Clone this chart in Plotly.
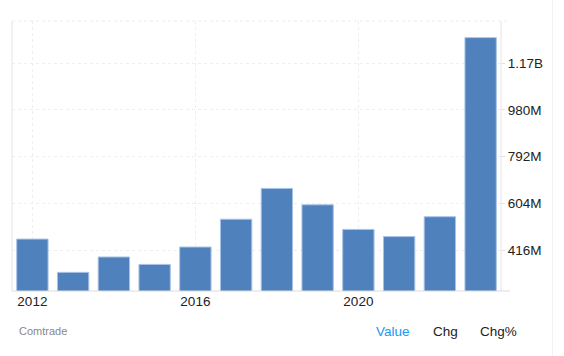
import plotly.graph_objects as go

years = [2012, 2013, 2014, 2015, 2016, 2017, 2018, 2019, 2020, 2021, 2022, 2023]
values_musd = [460, 326, 388, 358, 428, 540, 664, 598, 499, 470, 550, 1271]
values = [v * 1e6 for v in values_musd]

x_tickvals = [2012, 2016, 2020]
x_ticktext = ["2012", "2016", "2020"]
y_tickvals = [416e6, 604e6, 792e6, 980e6, 1168e6]
y_ticktext = ["416M", "604M", "792M", "980M", "1.17B"]

footer_source = "Comtrade"
footer_tabs = ["Value", "Chg", "Chg%"]

W, H = 564, 356
L, R, T, B = 12, 501, 21, 291
pw, ph = R - L, B - T

def px(x):
    return (x - L) / pw

def py(y):
    return (B - y) / ph

font = "Liberation Sans, Arial, Helvetica, sans-serif"

fig = go.Figure()
fig.add_trace(go.Bar(
    x=years, y=values, width=0.77,
    marker=dict(color="#4F81BD", line=dict(color="#a9c3e6", width=1)),
    hoverinfo="x+y",
))

grid_col = "#eeeeee"
fig.update_layout(
    width=W, height=H,
    margin=dict(l=L, r=W - R, t=T, b=H - B, pad=0),
    paper_bgcolor="white", plot_bgcolor="white",
    showlegend=False,
    font=dict(family=font, size=13.5, color="#333"),
    xaxis=dict(
        range=[2011.5, 2023.5], tickvals=x_tickvals, ticktext=x_ticktext,
        showgrid=True, gridcolor=grid_col, griddash="dot", gridwidth=1,
        showline=False, zeroline=False, ticks="", ticklabelstandoff=0,
        tickfont=dict(size=13.5, color="#222"),
    ),
    yaxis=dict(
        range=[251e6, 1338e6], side="right", tickvals=y_tickvals, ticktext=y_ticktext,
        showgrid=True, gridcolor=grid_col, griddash="dot", gridwidth=1,
        showline=False, zeroline=False, ticks="outside", ticklen=3, tickcolor="#e0e0e0",
        tickfont=dict(size=13.5, color="#222"),
    ),
)

line_col = "#e4e4e4"
shapes = [
    dict(type="line", xref="paper", yref="paper", x0=0, x1=0, y0=0, y1=1, line=dict(color=line_col, width=1)),
    dict(type="line", xref="paper", yref="paper", x0=1, x1=1, y0=0, y1=1, line=dict(color=line_col, width=1)),
    dict(type="line", xref="paper", yref="paper", x0=0, x1=px(510), y0=0, y1=0, line=dict(color="#dcdcdc", width=1)),
    dict(type="line", xref="paper", yref="paper", x0=0, x1=px(510), y0=1, y1=1, line=dict(color="#ececec", width=1, dash="dot")),
    dict(type="line", xref="paper", yref="paper", x0=px(552.5), x1=px(552.5), y0=py(0), y1=py(H), line=dict(color="#f2f2f2", width=1)),
]
fig.update_layout(shapes=shapes)

ann = [
    dict(text=footer_source, x=px(17), y=py(331), xanchor="left", yanchor="middle",
         font=dict(size=11, color="#888888")),
    dict(text=footer_tabs[0], x=px(374), y=py(331), xanchor="left", yanchor="middle",
         font=dict(size=13.5, color="#2196F3")),
    dict(text=footer_tabs[1], x=px(431), y=py(331), xanchor="left", yanchor="middle",
         font=dict(size=13.5, color="#222")),
    dict(text=footer_tabs[2], x=px(478), y=py(331), xanchor="left", yanchor="middle",
         font=dict(size=13.5, color="#222")),
]
for a in ann:
    fig.add_annotation(xref="paper", yref="paper", showarrow=False, **a)

fig.write_html("out.html")
